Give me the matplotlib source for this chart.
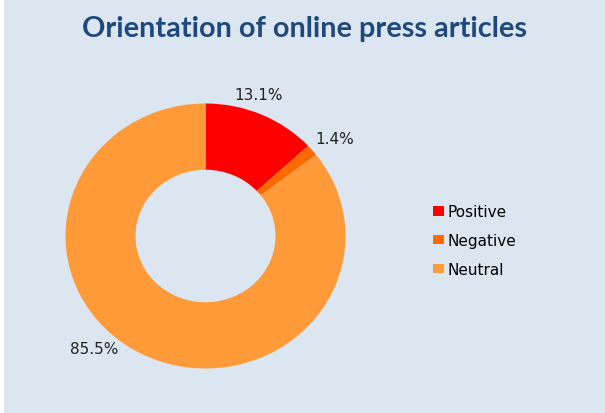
import matplotlib
matplotlib.use('Agg')
import matplotlib.pyplot as plt
from matplotlib.patches import Rectangle, Patch

categories = ['Positive', 'Negative', 'Neutral']
shares = [13.1, 1.4, 85.5]
pct_labels = ['13.1%', '1.4%', '85.5%']
colors = ['#FF0000', '#FF6A00', '#FF9A38']

bg = '#DCE6F1'
W, H = 605, 414
fig = plt.figure(figsize=(W / 100, H / 100), dpi=100, facecolor=bg)
fig.patches.append(Rectangle((0, 0), 4 / W, 1, transform=fig.transFigure,
                             facecolor='white', edgecolor='none', zorder=0))

# donut: centre (205.5, 237) px, radii 140 x 132.5 px (slightly squashed)
cx, cy, rx, ry = 205.5, 237, 140, 132.5
half = 160
ax = fig.add_axes([(cx - half) / W, (H - cy - half) / H, 2 * half / W, 2 * half / H])
ax.set_facecolor('none')
wedges, _ = ax.pie(shares, colors=colors, startangle=90, counterclock=False,
                   radius=1, wedgeprops=dict(width=0.5, edgecolor='none'))
ax.set_xlim(-half / rx, half / rx)
ax.set_ylim(-half / ry, half / ry)
ax.set_aspect('auto')
ax.axis('off')

# label positions in pixels (centre of text)
label_px = [(259, 95), (335, 140), (94, 350)]
for txt, (px, py) in zip(pct_labels, label_px):
    ax.text((px - cx) / rx, (cy - py) / ry, txt, ha='center', va='center',
            fontsize=11, color='#222222')

fig.text(305 / W, 1 - 29 / H, 'Orientation of online press articles',
         ha='center', va='center', fontsize=20.8, fontweight='bold',
         family='Lato', color='#1F497D')

handles = [Patch(facecolor=c, edgecolor='none') for c in colors]
fig.legend(handles, categories, loc='center left',
           bbox_to_anchor=(433 / W, 1 - 241.5 / H), frameon=False, fontsize=11,
           handlelength=0.75, handleheight=0.6, handletextpad=0.2,
           labelspacing=0.9, borderpad=0, borderaxespad=0)

fig.savefig('out.png', dpi=100, facecolor=bg)
